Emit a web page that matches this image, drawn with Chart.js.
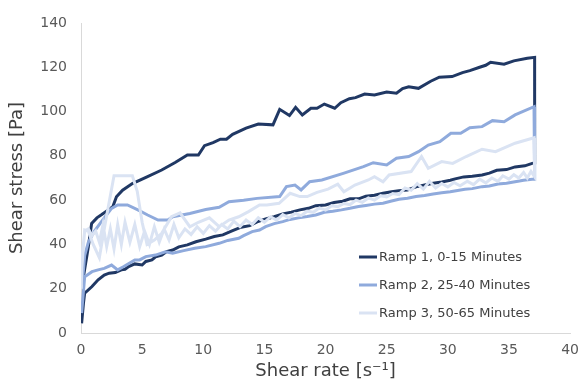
<!DOCTYPE html>
<html>
<head>
<meta charset="utf-8">
<script src="https://cdn.jsdelivr.net/npm/chart.js@4/dist/chart.umd.min.js"></script>
<style>
  html, body { margin: 0; padding: 0; background: #fff; }
  canvas { display: block; }
</style>
</head>
<body>
<canvas id="chart" width="588" height="383"></canvas>
<script>
/* ================= DATA ================= */
const seriesNames = ["Ramp 1, 0-15 Minutes", "Ramp 2, 25-40 Minutes", "Ramp 3, 50-65 Minutes"];
const seriesColors = ["#203864", "#8faadc", "#dae3f3"];
const xTicks = [0, 5, 10, 15, 20, 25, 30, 35, 40];
const yTicks = [0, 20, 40, 60, 80, 100, 120, 140];

// Ramp 1 - up
const r1UpX = [0.1, 0.6, 0.87, 1.3, 1.7, 2.2, 2.6, 2.9, 3.4, 4.2, 5.4, 6.6, 7.7, 8.7, 9.6, 10.1, 10.8, 11.4, 11.9, 12.4, 13.5, 14.5, 15.7, 16.25, 17.05, 17.55, 18.1, 18.8, 19.3, 19.9, 20.75, 21.25, 21.95, 22.45, 23.2, 24.0, 25.0, 25.8, 26.3, 26.8, 27.6, 28.6, 29.3, 30.35, 31.2, 31.8, 32.6, 33.1, 33.5, 34.6, 35.4, 36.5, 37.1];
const r1UpY = [22, 39, 49.5, 52, 53.5, 55.5, 57, 61.5, 64.5, 67.5, 70.5, 73.6, 77, 80.4, 80.4, 84.6, 86, 87.5, 87.5, 89.7, 92.5, 94.4, 94, 101, 98.2, 101.9, 98.5, 101.5, 101.5, 103.4, 101.5, 104, 105.8, 106.3, 107.9, 107.5, 108.8, 108.3, 110.4, 111.2, 110.5, 113.7, 115.5, 115.8, 117.6, 118.5, 120, 120.9, 122.3, 121.4, 122.9, 124.1, 124.5];
// Ramp 1 - down
const r1DownX = [37.1, 36.9, 36.3, 35.5, 34.8, 34.0, 33.4, 32.8, 32.0, 31.3, 30.6, 30.2, 29.5, 28.8, 28.1, 27.4, 26.7, 26.0, 25.4, 24.7, 24.0, 23.3, 22.7, 22.0, 21.4, 20.7, 20.0, 19.2, 18.6, 17.9, 17.2, 16.5, 15.8, 15.1, 14.4, 13.8, 13.1, 12.4, 11.6, 10.9, 10.2, 9.4, 8.7, 8.0, 7.5, 7.0, 6.6, 6.1, 5.8, 5.3, 5.0, 4.4, 3.9, 3.6, 3.3, 2.8, 2.3, 1.9, 1.4, 0.9, 0.3, 0.2, 0.05];
const r1DownY = [76.8, 76.6, 75.5, 75, 73.8, 73.5, 72.2, 71.4, 70.8, 70.5, 69.6, 69, 68.2, 67.6, 66.8, 66, 64.6, 64.3, 63.8, 63.1, 62.2, 61.8, 60.6, 60.6, 59.5, 58.9, 57.8, 57.5, 56.3, 55.6, 54.6, 53.8, 52.5, 51.5, 50.2, 48.5, 47.8, 46.2, 44.3, 43.6, 42.4, 41.2, 39.8, 38.9, 37.5, 36.8, 35.2, 34.4, 33, 32.3, 30.7, 31.2, 30, 28.8, 28.5, 27.3, 27, 26.2, 24, 21, 18, 13.4, 4.4];

// Ramp 2 - up
const r2UpX = [0.1, 0.3, 0.6, 1.1, 1.9, 2.5, 3.0, 3.8, 4.65, 5.45, 6.3, 7.1, 7.5, 8.9, 10.2, 11.3, 12.1, 13.3, 14.4, 16.25, 16.8, 17.5, 18.0, 18.7, 19.7, 21.45, 23.1, 23.9, 25.0, 25.8, 26.8, 27.6, 28.4, 29.35, 30.25, 31.05, 31.8, 32.8, 33.65, 34.6, 35.5, 37.05];
const r2UpY = [22, 35, 41, 46, 52, 56.3, 57.8, 57.8, 55.6, 53.3, 51, 51, 52.5, 54, 55.8, 56.8, 59.3, 60, 60.8, 61.6, 66.1, 66.8, 64.6, 68.3, 69.1, 72.1, 75.1, 76.9, 75.9, 78.9, 79.7, 81.9, 84.9, 86.4, 90.2, 90.2, 92.7, 93.2, 95.9, 95.4, 98.5, 102.2];
// Ramp 2 - down
const r2DownX = [37.1, 36.9, 36.2, 35.5, 34.8, 34.1, 33.4, 32.8, 32.0, 31.4, 30.8, 30.2, 29.5, 28.8, 28.1, 27.4, 26.7, 26.0, 25.4, 24.7, 24.0, 23.3, 22.7, 22.0, 21.3, 20.6, 19.9, 19.2, 18.5, 17.8, 17.1, 16.5, 15.8, 15.1, 14.6, 14.0, 13.3, 12.9, 12.0, 11.3, 10.2, 9.3, 8.4, 7.5, 6.9, 6.1, 5.3, 4.8, 4.4, 3.5, 3.0, 2.5, 1.9, 1.4, 0.9, 0.3, 0.05];
const r2DownY = [69.4, 69.4, 69, 68.3, 67.6, 67.3, 66.4, 66.1, 65.2, 64.9, 64.4, 63.8, 63.3, 62.8, 62.1, 61.6, 60.9, 60.4, 59.6, 58.6, 58.2, 57.6, 57.1, 56.3, 55.6, 55.0, 54.5, 53.3, 52.6, 52.0, 51.3, 50.3, 49.4, 48.0, 46.5, 45.8, 44.0, 42.8, 41.8, 40.5, 39, 38.3, 37.2, 36, 36.7, 35.2, 34.5, 33, 33, 30, 28.5, 30.7, 29.2, 28.5, 27.7, 25.4, 9];

// Ramp 3 - up
const r3UpX = [0.05, 0.3, 0.6, 1.0, 1.5, 2.0, 2.7, 4.2, 4.6, 5.0, 5.4, 6.0, 6.6, 7.4, 8.1, 8.9, 9.6, 10.5, 11.3, 12.1, 12.9, 13.7, 14.6, 15.2, 16.2, 17.1, 17.9, 18.5, 19.3, 20.2, 21.0, 21.5, 22.4, 23.5, 24.0, 24.7, 25.2, 27.0, 27.85, 28.4, 29.5, 30.4, 31.5, 32.8, 33.9, 35.5, 37.05];
const r3UpY = [28, 46.5, 46, 40, 34, 50, 71, 71, 64, 50, 40, 42, 45, 52.5, 54.2, 48, 50, 52, 48, 51, 52.5, 54.8, 57.8, 57.8, 58.6, 63.1, 61.6, 61.6, 63.5, 65, 67.2, 63.8, 66.8, 69.1, 70.6, 68.3, 71.4, 72.9, 79.7, 74.4, 77.4, 76.6, 79.7, 83, 81.9, 85.7, 88.2];
// Ramp 3 - down
const r3DownX = [37.1, 36.8, 36.5, 36.2, 35.8, 35.4, 35, 34.5, 34.1, 33.6, 33.1, 32.6, 32.1, 31.6, 31.0, 30.5, 30.0, 29.5, 29.0, 28.5, 28.0, 27.5, 27.0, 26.5, 26.0, 25.5, 25, 24.5, 24, 23.5, 23, 22.5, 22, 21.5, 21, 20.5, 20, 19.5, 19, 18.5, 18, 17.5, 17, 16.5, 16, 15.5, 15, 14.5, 14, 13.5, 13, 12.5, 12, 11.5, 11, 10.5, 10, 9.5, 9, 8.5, 8, 7.6, 7.2, 6.8, 6.4, 6, 5.6, 5.2, 4.8, 4.4, 4.0, 3.6, 3.3, 3.0, 2.7, 2.4, 2.1, 1.8, 1.5, 1.2, 0.9, 0.6, 0.3, 0.1, 0.02];
const r3DownY = [70.5, 73, 70, 72.5, 70, 71.5, 69.5, 71, 68.5, 70, 67.8, 69.5, 67, 68.5, 66.5, 68, 66, 67.5, 65.5, 68.5, 65, 67.5, 64.5, 65.5, 62.5, 63, 61.5, 62, 60, 61, 59, 60, 58, 58.5, 57, 57.5, 55.5, 56.5, 54.5, 55, 53, 54, 52, 53.5, 51, 52.5, 50, 52, 49, 51, 48, 50.5, 47, 49, 46, 48.5, 45, 48, 44.5, 47, 43, 49, 42, 47, 41, 48, 40, 46, 39, 49, 41, 50, 40, 49, 38, 47, 39, 49, 41, 46, 44, 47, 46, 35, 20];

/* ================= HELPERS ================= */
function toPoints(xs, ys){
    let pts = [];
    xs.forEach((x, i) => pts.push({ x: x, y: ys[i] }));
    return pts;
}

const loops = [
    toPoints(r1UpX, r1UpY).concat(toPoints(r1DownX, r1DownY)),
    toPoints(r2UpX, r2UpY).concat(toPoints(r2DownX, r2DownY)),
    toPoints(r3UpX, r3UpY).concat(toPoints(r3DownX, r3DownY))
];

const FONT = "'DejaVu Sans', Verdana, sans-serif";

/* ================= LEGEND (inside plot) ================= */
const insideLegend = {
    id: "insideLegend",
    afterDraw(chart){
        const ctx = chart.ctx;
        const rows = [257, 285, 313];
        ctx.save();
        ctx.font = "13px " + FONT;
        ctx.textBaseline = "middle";
        ctx.textAlign = "left";
        chart.data.datasets.forEach((ds, i) => {
            ctx.strokeStyle = ds.borderColor;
            ctx.lineWidth = 3;
            ctx.beginPath();
            ctx.moveTo(359, rows[i]);
            ctx.lineTo(377, rows[i]);
            ctx.stroke();
            ctx.fillStyle = "#404040";
            ctx.fillText(ds.label, 379, rows[i] + 1);
        });
        ctx.restore();
    }
};

/* ================= CHART ================= */
new Chart(document.getElementById("chart"), {
    type: "line",
    data: {
        datasets: loops.map((pts, i) => ({
            label: seriesNames[i],
            data: pts,
            borderColor: seriesColors[i],
            backgroundColor: seriesColors[i],
            borderWidth: 3,
            pointRadius: 0,
            tension: 0,
            fill: false,
            order: 3 - i
        }))
    },
    options: {
        responsive: false,
        animation: false,
        devicePixelRatio: 1,
        layout: { padding: { top: 23, right: 17, bottom: 0, left: 0 } },
        plugins: {
            legend: { display: false },
            tooltip: { enabled: false }
        },
        scales: {
            x: {
                type: "linear",
                min: 0,
                max: 40,
                afterBuildTicks: s => { s.ticks = xTicks.map(v => ({ value: v })); },
                afterFit: s => { s.height = 50; },
                grid: { display: false, drawTicks: false },
                border: { display: true, color: "#d9d9d9", width: 1 },
                ticks: { color: "#595959", font: { family: FONT, size: 14 }, padding: 9, maxRotation: 0 },
                title: { display: true, text: "Shear rate [s⁻¹]", color: "#404040", font: { family: FONT, size: 18 }, padding: { top: 0, bottom: 1 } }
            },
            y: {
                min: 0,
                max: 140,
                afterBuildTicks: s => { s.ticks = yTicks.map(v => ({ value: v })); },
                afterFit: s => { s.width = 81; },
                grid: { display: false, drawTicks: false },
                border: { display: true, color: "#d9d9d9", width: 1 },
                ticks: { color: "#595959", font: { family: FONT, size: 14 }, padding: 14 },
                title: { display: true, text: "Shear stress [Pa]", color: "#404040", font: { family: FONT, size: 18 }, padding: { top: 7, bottom: 0 } }
            }
        }
    },
    plugins: [insideLegend]
});
</script>
</body>
</html>
